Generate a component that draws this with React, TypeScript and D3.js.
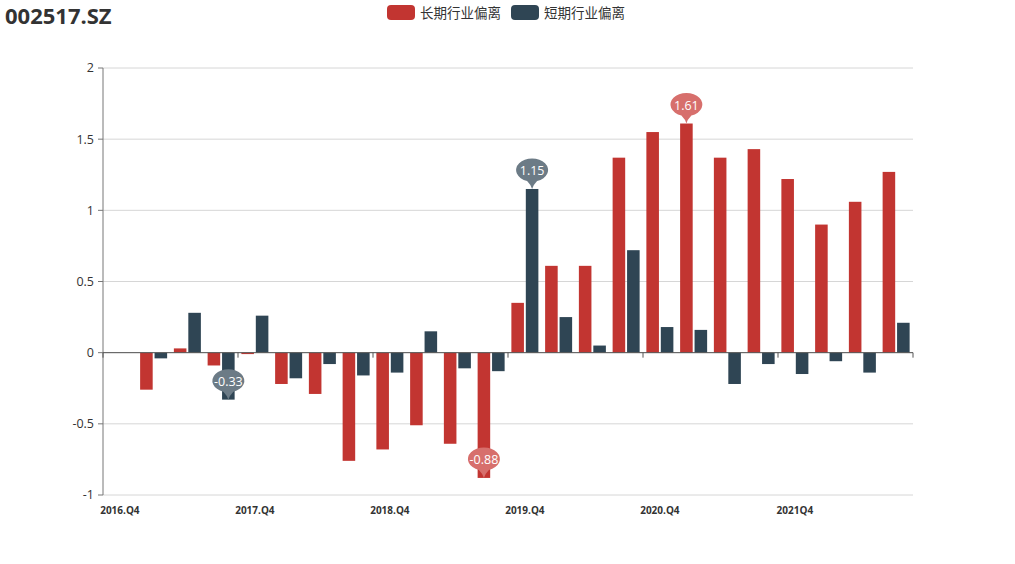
import { useEffect, useRef } from "react";
import * as d3 from "d3";

const categorias = [
  "2016.Q4", "2017.Q1", "2017.Q2", "2017.Q3",
  "2017.Q4", "2018.Q1", "2018.Q2", "2018.Q3",
  "2018.Q4", "2019.Q1", "2019.Q2", "2019.Q3",
  "2019.Q4", "2020.Q1", "2020.Q2", "2020.Q3",
  "2020.Q4", "2021.Q1", "2021.Q2", "2021.Q3",
  "2021Q4", "2022.Q1", "2022.Q2", "2022.Q3",
];

const largoPlazo: (number | null)[] = [
  null, -0.26, 0.03, -0.09, -0.01, -0.22, -0.29, -0.76, -0.68, -0.51, -0.64, -0.88,
  0.35, 0.61, 0.61, 1.37, 1.55, 1.61, 1.37, 1.43, 1.22, 0.9, 1.06, 1.27,
];

const cortoPlazo: (number | null)[] = [
  null, -0.04, 0.28, -0.33, 0.26, -0.18, -0.08, -0.16, -0.14, 0.15, -0.11, -0.13,
  1.15, 0.25, 0.05, 0.72, 0.18, 0.16, -0.22, -0.08, -0.15, -0.06, -0.14, 0.21,
];

const ticksY = [-1, -0.5, 0, 0.5, 1, 1.5, 2];

const series = [
  { nombre: "长期行业偏离", datos: largoPlazo, color: "#c23531", colorPin: "#d76f6c" },
  { nombre: "短期行业偏离", datos: cortoPlazo, color: "#2f4554", colorPin: "#6c7b86" },
];

const FUENTE = "'Open Sans', 'Noto Sans CJK SC', sans-serif";

export default function App() {
  const svgRef = useRef<SVGSVGElement>(null);
  const ANCHO = 1015;
  const ALTO = 564;

  useEffect(() => {
    document.body.style.margin = "0";
    if (!svgRef.current) return;
    const svg = d3.select(svgRef.current);
    svg.selectAll("*").remove();

    const margen = { top: 68, right: 102, bottom: 69, left: 103 };
    const anchoInterno = ANCHO - margen.left - margen.right;
    const altoInterno = ALTO - margen.top - margen.bottom;

    // Título
    svg
      .append("text")
      .attr("x", 5)
      .attr("y", 24)
      .attr("fill", "#333")
      .attr("font-family", FUENTE)
      .attr("font-size", 22)
      .attr("font-weight", 700)
      .text("002517.SZ");

    // Leyenda
    const leyenda = svg.append("g").attr("transform", "translate(387,5)");
    let dx = 0;
    series.forEach((s) => {
      const item = leyenda.append("g").attr("transform", `translate(${dx},0)`);
      item.append("rect").attr("width", 28).attr("height", 15).attr("rx", 4).attr("fill", s.color);
      const t = item
        .append("text")
        .attr("x", 33)
        .attr("y", 8)
        .attr("dy", "0.35em")
        .attr("fill", "#333")
        .attr("font-family", FUENTE)
        .attr("font-size", 13.5)
        .text(s.nombre);
      const w = (t.node() as SVGTextElement).getComputedTextLength();
      dx += 33 + w + 10;
    });

    const g = svg.append("g").attr("transform", `translate(${margen.left},${margen.top})`);

    const x = d3.scaleBand().domain(categorias).range([0, anchoInterno]).paddingInner(0).paddingOuter(0);
    const y = d3.scaleLinear().domain([-1, 2]).range([altoInterno, 0]);

    const xInterna = d3
      .scaleBand()
      .domain(series.map((s) => s.nombre))
      .range([x.bandwidth() * 0.1, x.bandwidth() * 0.9])
      .paddingInner(0.3 / 2.3);

    // Rejilla
    g.selectAll("line.rejilla")
      .data(ticksY)
      .enter()
      .append("line")
      .attr("x1", 0)
      .attr("x2", anchoInterno)
      .attr("y1", (d) => y(d))
      .attr("y2", (d) => y(d))
      .attr("stroke", "#d6d6d6")
      .attr("stroke-width", 1);

    // Eje Y
    g.append("line")
      .attr("x1", 0)
      .attr("x2", 0)
      .attr("y1", 0)
      .attr("y2", altoInterno)
      .attr("stroke", "#777");
    g.selectAll("line.tickY")
      .data(ticksY)
      .enter()
      .append("line")
      .attr("x1", -5)
      .attr("x2", 0)
      .attr("y1", (d) => y(d))
      .attr("y2", (d) => y(d))
      .attr("stroke", "#777");
    g.selectAll("text.etqY")
      .data(ticksY)
      .enter()
      .append("text")
      .attr("x", -9)
      .attr("y", (d) => y(d))
      .attr("dy", "0.35em")
      .attr("text-anchor", "end")
      .attr("fill", "#333")
      .attr("font-family", FUENTE)
      .attr("font-size", 12.5)
      .text((d) => String(d));

    // Barras
    series.forEach((s) => {
      g.append("g")
        .selectAll("rect")
        .data(categorias.map((c, i) => ({ c, v: s.datos[i] })).filter((d) => d.v !== null))
        .enter()
        .append("rect")
        .attr("x", (d) => (x(d.c) || 0) + (xInterna(s.nombre) || 0))
        .attr("width", xInterna.bandwidth())
        .attr("y", (d) => y(Math.max(0, d.v as number)))
        .attr("height", (d) => Math.abs(y(d.v as number) - y(0)))
        .attr("fill", s.color);
    });

    // Eje X sobre el cero
    g.append("line")
      .attr("x1", 0)
      .attr("x2", anchoInterno)
      .attr("y1", y(0))
      .attr("y2", y(0))
      .attr("stroke", "#555");
    const limites = categorias.map((c) => x(c) || 0).filter((_, i) => i % 4 === 0).concat([anchoInterno]);
    g.selectAll("line.tickX")
      .data(limites)
      .enter()
      .append("line")
      .attr("x1", (d) => d)
      .attr("x2", (d) => d)
      .attr("y1", y(0))
      .attr("y2", y(0) + 5)
      .attr("stroke", "#555");
    g.selectAll("text.etqX")
      .data(categorias.filter((_, i) => i % 4 === 0))
      .enter()
      .append("text")
      .attr("x", (d) => (x(d) || 0) + x.bandwidth() / 2)
      .attr("y", altoInterno + 19)
      .attr("text-anchor", "middle")
      .attr("fill", "#333")
      .attr("font-family", FUENTE)
      .attr("font-size", 10)
      .attr("font-weight", 700)
      .text((d) => d);

    // Marcadores de máximo y mínimo
    const pin = "M -5,-8 A 16 11.5 0 1 1 5,-8 Q 1,-4 0,0 Q -1,-4 -5,-8 Z";
    series.forEach((s) => {
      const validos = categorias
        .map((c, i) => ({ c, v: s.datos[i] }))
        .filter((d) => d.v !== null) as { c: string; v: number }[];
      const extremos = [d3.greatest(validos, (d) => d.v)!, d3.least(validos, (d) => d.v)!];
      extremos.forEach((d) => {
        const px = (x(d.c) || 0) + (xInterna(s.nombre) || 0) + xInterna.bandwidth() / 2;
        const m = g.append("g").attr("transform", `translate(${px},${y(d.v)})`);
        m.append("path").attr("d", pin).attr("fill", s.colorPin);
        m.append("text")
          .attr("y", -18)
          .attr("dy", "0.35em")
          .attr("text-anchor", "middle")
          .attr("fill", "#fff")
          .attr("font-family", FUENTE)
          .attr("font-size", 12.5)
          .text(d.v.toFixed(2));
      });
    });
  }, []);

  return <svg ref={svgRef} width={ANCHO} height={ALTO} viewBox={`0 0 ${ANCHO} ${ALTO}`} style={{ display: "block" }} />;
}
